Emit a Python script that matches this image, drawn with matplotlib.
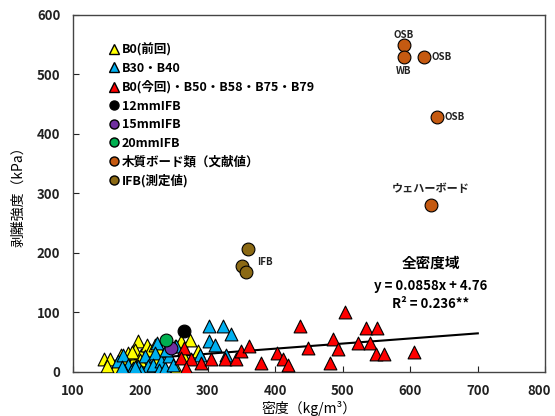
import matplotlib.pyplot as plt
import matplotlib.transforms as mtransforms
from matplotlib.lines import Line2D

plt.rcParams['font.family'] = ['Noto Sans CJK JP', 'DejaVu Sans']
plt.rcParams['font.weight'] = 'bold'

# B0(前回) - yellow triangles
b0_prev_x = [146, 155, 162, 151, 171, 177, 196, 192, 201, 209, 214, 221, 226, 231,
             251, 260, 274, 263, 285, 253, 189, 182, 206, 187, 199, 228]
b0_prev_y = [21, 21, 7, 10, 29, 21, 52, 37, 29, 46, 37, 46, 23, 35,
             43, 52, 54, 29, 35, 7, 18, 32, 18, 34, 20, 37]

# B30・B40 - blue triangles
b30_x = [167, 174, 182, 176, 189, 196, 206, 211, 224, 221, 219, 231, 228, 236, 243,
         238, 253, 248, 201, 186, 302, 323, 334, 302, 311, 327, 288, 172, 192]
b30_y = [18, 29, 12, 4, 7, 10, 26, 10, 49, 32, 12, 18, 4, 7, 26,
         37, 43, 12, 1, 1, 77, 77, 64, 52, 46, 29, 28, 8, 9]

# B0(今回)・B50・B58・B75・B79 - red triangles
b0_now_x = [265, 260, 275, 268, 290, 305, 325, 342, 349, 361, 379, 402, 412, 419,
            436, 449, 503, 486, 493, 481, 523, 534, 551, 540, 549, 561, 605]
b0_now_y = [40, 24, 21, 7, 15, 21, 21, 21, 35, 43, 15, 31, 22, 11,
            77, 41, 100, 55, 38, 15, 48, 73, 73, 48, 30, 30, 34]

ifb12_x, ifb12_y, ifb12_err = [264], [68], [9]
ifb15_x, ifb15_y = [245], [41]
ifb20_x, ifb20_y = [238], [53]

# 木質ボード類（文献値）
wood_x = [590, 590, 620, 639, 630]
wood_y = [550, 529, 529, 428, 281]

# IFB(測定値)
ifb_meas_x = [360, 351, 357]
ifb_meas_y = [207, 178, 168]

# regression (全密度域)
slope, intercept = 0.0858, 4.76
fit_x = [145, 700]
fit_y = [slope * x + intercept for x in fit_x]

fig = plt.figure(figsize=(5.55, 4.16), dpi=100)
ax = fig.add_axes([0.1315, 0.106, 0.851, 0.858])

ms = 85
ax.plot(fit_x, fit_y, color='black', lw=1.5, zorder=2)
ax.scatter(b0_prev_x, b0_prev_y, marker='^', s=ms, c='#FFFF00', edgecolors='black', linewidths=0.8, zorder=3)
ax.scatter(b30_x, b30_y, marker='^', s=ms, c='#00B0F0', edgecolors='black', linewidths=0.8, zorder=3)
ax.scatter(b0_now_x, b0_now_y, marker='^', s=ms, c='#FF0000', edgecolors='black', linewidths=0.8, zorder=3)
ax.errorbar(ifb12_x, ifb12_y, yerr=ifb12_err, fmt='none', ecolor='black', lw=1, zorder=4)
ax.scatter(ifb12_x, ifb12_y, marker='o', s=ms, c='black', edgecolors='black', linewidths=0.8, zorder=4)
ax.scatter(ifb15_x, ifb15_y, marker='o', s=ms, c='#7030A0', edgecolors='black', linewidths=0.8, zorder=4)
ax.scatter(ifb20_x, ifb20_y, marker='o', s=ms, c='#00B050', edgecolors='black', linewidths=0.8, zorder=4)
ax.scatter(wood_x, wood_y, marker='o', s=ms, c='#C55A11', edgecolors='black', linewidths=0.8, zorder=4)
ax.scatter(ifb_meas_x, ifb_meas_y, marker='o', s=ms, c='#8B6914', edgecolors='black', linewidths=0.8, zorder=4)

# point labels
small = dict(fontsize=7, fontweight='bold', color='#222222')
ax.text(590, 566, 'OSB', ha='center', va='center', **small)
ax.text(590, 505, 'WB', ha='center', va='center', **small)
ax.text(632, 529, 'OSB', ha='left', va='center', **small)
ax.text(651, 428, 'OSB', ha='left', va='center', **small)
ax.text(630, 308, 'ウェハーボード', ha='center', va='center', fontsize=8, color='#222222')
ax.text(373, 185, 'IFB', ha='left', va='center', **small)

ax.text(630, 183, '全密度域', ha='center', va='center', fontsize=10.5)
ax.text(630, 144, 'y = 0.0858x + 4.76', ha='center', va='center', fontsize=9.5)
ax.text(630, 114, 'R² = 0.236**', ha='center', va='center', fontsize=9.5)

handles = [
    Line2D([], [], ls='', marker='^', ms=6.5, mfc='#FFFF00', mec='black', label='B0(前回)'),
    Line2D([], [], ls='', marker='^', ms=6.5, mfc='#00B0F0', mec='black', label='B30・B40'),
    Line2D([], [], ls='', marker='^', ms=6.5, mfc='#FF0000', mec='black', label='B0(今回)・B50・B58・B75・B79'),
    Line2D([], [], ls='', marker='o', ms=6.5, mfc='black', mec='black', label='12mmIFB'),
    Line2D([], [], ls='', marker='o', ms=6.5, mfc='#7030A0', mec='black', label='15mmIFB'),
    Line2D([], [], ls='', marker='o', ms=6.5, mfc='#00B050', mec='black', label='20mmIFB'),
    Line2D([], [], ls='', marker='o', ms=6.5, mfc='#C55A11', mec='black', label='木質ボード類（文献値）'),
    Line2D([], [], ls='', marker='o', ms=6.5, mfc='#8B6914', mec='black', label='IFB(測定値)'),
]
ax.legend(handles=handles, loc='upper left', bbox_to_anchor=(0.078, 0.922), frameon=False,
          fontsize=9, handlelength=0.7, handletextpad=0.25, labelspacing=0.45, borderaxespad=0,
          borderpad=0)

ax.set_xlim(100, 800)
ax.set_ylim(0, 600)
ax.set_xticks(range(100, 801, 100))
ax.set_yticks(range(0, 601, 100))
ax.tick_params(direction='in', length=4, labelsize=9.5, pad=9, colors='#222222', top=False, right=False)
for lbl in ax.get_xticklabels() + ax.get_yticklabels():
    lbl.set_fontweight('bold')
# keep the last x tick label inside the figure
last = ax.get_xticklabels()[-1]
last.set_transform(last.get_transform() + mtransforms.ScaledTranslation(-6 / 100, 0, fig.dpi_scale_trans))
for sp in ax.spines.values():
    sp.set_color('#444444')
    sp.set_linewidth(1.0)

ax.set_xlabel('密度（kg/m³）', fontsize=10, labelpad=2)
ax.set_ylabel('剥離強度（kPa）', fontsize=10, labelpad=8)

fig.savefig('out.png', dpi=100)
